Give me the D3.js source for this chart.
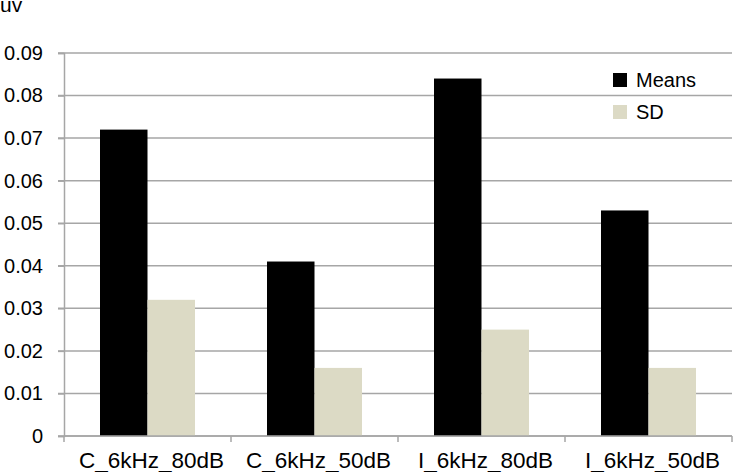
<!DOCTYPE html>
<html>
<head>
<meta charset="utf-8">
<script src="https://cdn.jsdelivr.net/npm/d3@7"></script>
<style>
  body { margin: 0; background: #fff; }
  svg { display: block; font-family: "Liberation Sans", Arial, sans-serif; }
</style>
</head>
<body>
<svg id="chart"></svg>
<script>
// data
const categories = ["C_6kHz_80dB", "C_6kHz_50dB", "I_6kHz_80dB", "I_6kHz_50dB"];
const seriesNames = ["Means", "SD"];
const means = [0.072, 0.041, 0.084, 0.053];
const sds = [0.032, 0.016, 0.025, 0.016];
const yTicks = [0, 0.01, 0.02, 0.03, 0.04, 0.05, 0.06, 0.07, 0.08, 0.09];
const colors = ["#000000", "#dcdac5"];

const width = 741, height = 472;
const margin = { top: 53, right: 9, bottom: 36, left: 64 };
const innerW = width - margin.left - margin.right;
const innerH = height - margin.top - margin.bottom;

const svg = d3.select("#chart")
  .attr("width", width)
  .attr("height", height);

const g = svg.append("g")
  .attr("transform", `translate(${margin.left},${margin.top})`);

const x0 = d3.scaleBand()
  .domain(categories)
  .range([0, innerW]);

const gap = x0.bandwidth() * 0.2156;
const x1 = d3.scaleBand()
  .domain(seriesNames)
  .range([gap, x0.bandwidth() - gap]);

const y = d3.scaleLinear()
  .domain([0, 0.09])
  .range([innerH, 0]);

// gridlines
g.append("g")
  .selectAll("line")
  .data(yTicks)
  .join("line")
  .attr("x1", -6)
  .attr("x2", innerW)
  .attr("y1", d => y(d))
  .attr("y2", d => y(d))
  .attr("stroke", "#a6a6a6")
  .attr("stroke-width", 1.5);

// y axis
const yAxis = d3.axisLeft(y)
  .tickValues(yTicks)
  .tickFormat(d => d === 0 ? "0" : d3.format(".2f")(d))
  .tickSize(6)
  .tickPadding(15);

const yAxisG = g.append("g").call(yAxis);
yAxisG.select(".domain").attr("stroke", "#a6a6a6").attr("stroke-width", 1.5);
yAxisG.selectAll(".tick line").attr("stroke", "#a6a6a6").attr("stroke-width", 1.5);
yAxisG.selectAll(".tick text")
  .attr("font-size", 20)
  .attr("font-family", "Liberation Sans, Arial, sans-serif")
  .attr("fill", "#000");

// bars
const rows = categories.map((c, i) => ({ cat: c, values: [means[i], sds[i]] }));

g.append("g")
  .selectAll("g")
  .data(rows)
  .join("g")
  .attr("transform", d => `translate(${x0(d.cat)},0)`)
  .selectAll("rect")
  .data(d => d.values.map((v, j) => ({ key: seriesNames[j], value: v, color: colors[j] })))
  .join("rect")
  .attr("x", d => x1(d.key))
  .attr("width", x1.bandwidth())
  .attr("y", d => y(d.value))
  .attr("height", d => innerH - y(d.value))
  .attr("fill", d => d.color);

// x axis
const xAxisG = g.append("g")
  .attr("transform", `translate(0,${innerH})`);

xAxisG.append("line")
  .attr("x1", 0)
  .attr("x2", innerW)
  .attr("stroke", "#a6a6a6")
  .attr("stroke-width", 1.5);

xAxisG.selectAll(".sep")
  .data(d3.range(categories.length + 1))
  .join("line")
  .attr("class", "sep")
  .attr("x1", i => i * x0.step())
  .attr("x2", i => i * x0.step())
  .attr("y1", 0)
  .attr("y2", 6)
  .attr("stroke", "#a6a6a6")
  .attr("stroke-width", 1.5);

xAxisG.selectAll(".lbl")
  .data(categories)
  .join("text")
  .attr("class", "lbl")
  .attr("x", d => x0(d) + x0.bandwidth() / 2 + 4)
  .attr("y", 32)
  .attr("text-anchor", "middle")
  .attr("font-size", 22.5)
  .attr("fill", "#000")
  .text(d => d);

// unit label
svg.append("text")
  .attr("x", 0)
  .attr("y", 12)
  .attr("font-size", 21)
  .attr("fill", "#000")
  .text("uv");

// legend
const legend = svg.append("g")
  .attr("transform", "translate(613,73)");

const items = legend.selectAll("g")
  .data(seriesNames)
  .join("g")
  .attr("transform", (d, i) => `translate(0,${i * 32})`);

items.append("rect")
  .attr("width", 14)
  .attr("height", 14)
  .attr("fill", (d, i) => colors[i]);

items.append("text")
  .attr("x", 23)
  .attr("y", 14)
  .attr("font-size", 20)
  .attr("fill", "#000")
  .text(d => d);
</script>
</body>
</html>
